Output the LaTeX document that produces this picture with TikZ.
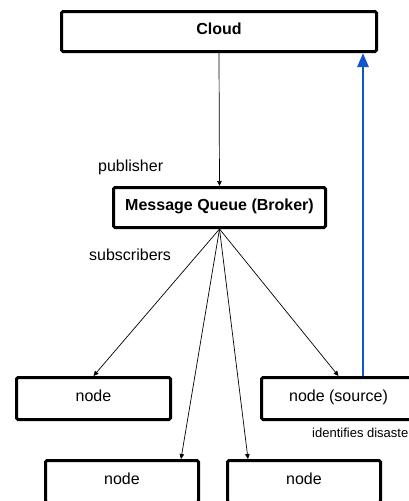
\documentclass[tikz,border=0pt]{standalone}
\usepackage{fontspec}
\setmainfont{Liberation Sans}
\usetikzlibrary{arrows.meta,calc}
\definecolor{linkblue}{HTML}{1155CC}
\tikzset{
  box/.style={draw=black, line width=3pt, rounded corners=1.5pt, fill=white,
    minimum height=42pt, inner sep=0pt, text height=12pt, text depth=6.5pt,
    font=\fontsize{16}{19}\selectfont},
  bigbox/.style={box, minimum height=40pt, font=\fontsize{16}{19}\selectfont\bfseries},
  lbl/.style={inner sep=0pt, anchor=base west, font=\fontsize{16}{19}\selectfont},
  smalllbl/.style={inner sep=0pt, anchor=base west, font=\fontsize{13}{15}\selectfont},
  conn/.style={draw=black, line width=0.7pt, -{Triangle[length=5pt,width=4.5pt]}},
  bluearrow/.style={draw=linkblue, line width=2.7pt, -{Triangle[length=14pt,width=11pt]}}
}
\begin{document}
\begin{tikzpicture}[x=1pt,y=-1pt]
\useasboundingbox (0,0) rectangle (409,501);
\clip (0,0) rectangle (409,501);
\node[bigbox, minimum width=315pt] (cloud) at (219,31.5) {Cloud};
\node[bigbox, minimum width=212pt] (mq) at (219.5,207.5) {Message Queue (Broker)};
\node[box, minimum width=154pt] (n1) at (93.5,398.5) {node};
\node[box, minimum width=154pt] (src) at (338.5,398.5) {node (source)};
\node[box, minimum width=153pt] (bl) at (122,481.5) {node};
\node[box, minimum width=153pt] (br) at (304,481.5) {node};
\node[lbl] (pub) at (98,171) {publisher};
\node[lbl] (sub) at (89,260) {subscribers};
\node[smalllbl] (ident) at (312,437) {identifies disaster};
\draw[conn] (cloud.south) -- (mq.north);
\draw[conn] (mq.south) -- (n1.north);
\draw[conn] (mq.south) -- ([xshift=59pt]bl.north);
\draw[conn] (mq.south) -- ([xshift=-56pt]br.north);
\draw[conn] (mq.south) -- (src.north);
\draw[bluearrow] ([xshift=24.5pt]src.north) -- ([xshift=24.5pt]src.north |- cloud.south);
\end{tikzpicture}
\end{document}
